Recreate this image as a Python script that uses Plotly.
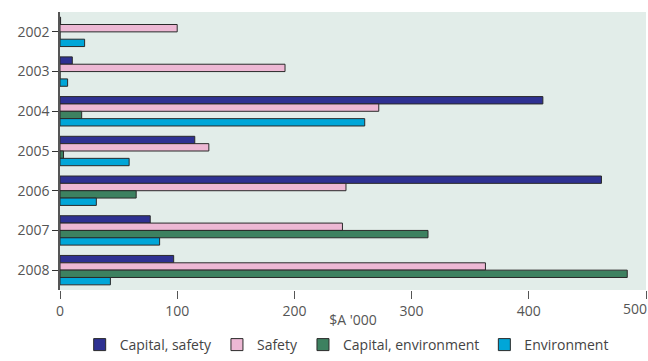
import plotly.graph_objects as go

years = ["2002", "2003", "2004", "2005", "2006", "2007", "2008"]
capital_safety = [0.5, 10.5, 412, 115, 462, 77, 97]
safety = [100, 192, 272, 127, 244, 241, 363]
capital_environment = [0, 0, 18.5, 3, 65, 314, 484]
environment = [21, 6.5, 260, 59, 31, 85, 43]
x_ticks = [0, 100, 200, 300, 400, 500]

series = [
    ("Capital, safety", capital_safety, "#2E3192"),
    ("Safety", safety, "#EDB8D4"),
    ("Capital, environment", capital_environment, "#3D8160"),
    ("Environment", environment, "#00A6D8"),
]

fig = go.Figure()
for name, vals, col in series:
    fig.add_trace(go.Bar(
        y=years, x=vals, name=name, orientation="h",
        marker=dict(color=col, line=dict(color="#2a2a2a", width=1)),
    ))

fig.update_layout(
    width=648, height=361,
    margin=dict(l=60, r=2, t=12, b=71),
    barmode="group", bargap=0.26, bargroupgap=0,
    plot_bgcolor="#E2EDE9", paper_bgcolor="white",
    font=dict(family="Open Sans", size=14, color="#555555"),
    legend=dict(orientation="h", x=0.535, xanchor="center", xref="container",
                y=-0.03, yanchor="bottom", yref="container",
                font=dict(size=14, color="#444444"), traceorder="normal",
                itemwidth=30, tracegroupgap=0),
    showlegend=True,
)
# the last tick label is drawn as an annotation, right-aligned so it stays on the page
fig.update_xaxes(
    range=[0, 500], tickvals=x_ticks,
    ticktext=[str(v) for v in x_ticks[:-1]] + [""],
    ticks="outside", ticklen=8, tickcolor="#555555", showgrid=False,
    zeroline=False, showline=False, automargin=False,
    title=dict(text="$A '000", font=dict(size=14, color="#555555"), standoff=8),
    tickfont=dict(size=14),
)
fig.add_annotation(x=x_ticks[-1], y=0, xref="x", yref="paper", text=str(x_ticks[-1]),
                   showarrow=False, xanchor="right", yanchor="top", yshift=-7, xshift=3,
                   font=dict(size=14, color="#555555"))
fig.update_yaxes(
    categoryorder="array", categoryarray=years, autorange="reversed",
    ticks="outside", ticklen=6, tickcolor="#333333", showgrid=False,
    showline=True, linecolor="#555555", linewidth=1.5, automargin=False,
    tickfont=dict(size=14),
)

fig.write_html("out.html")
